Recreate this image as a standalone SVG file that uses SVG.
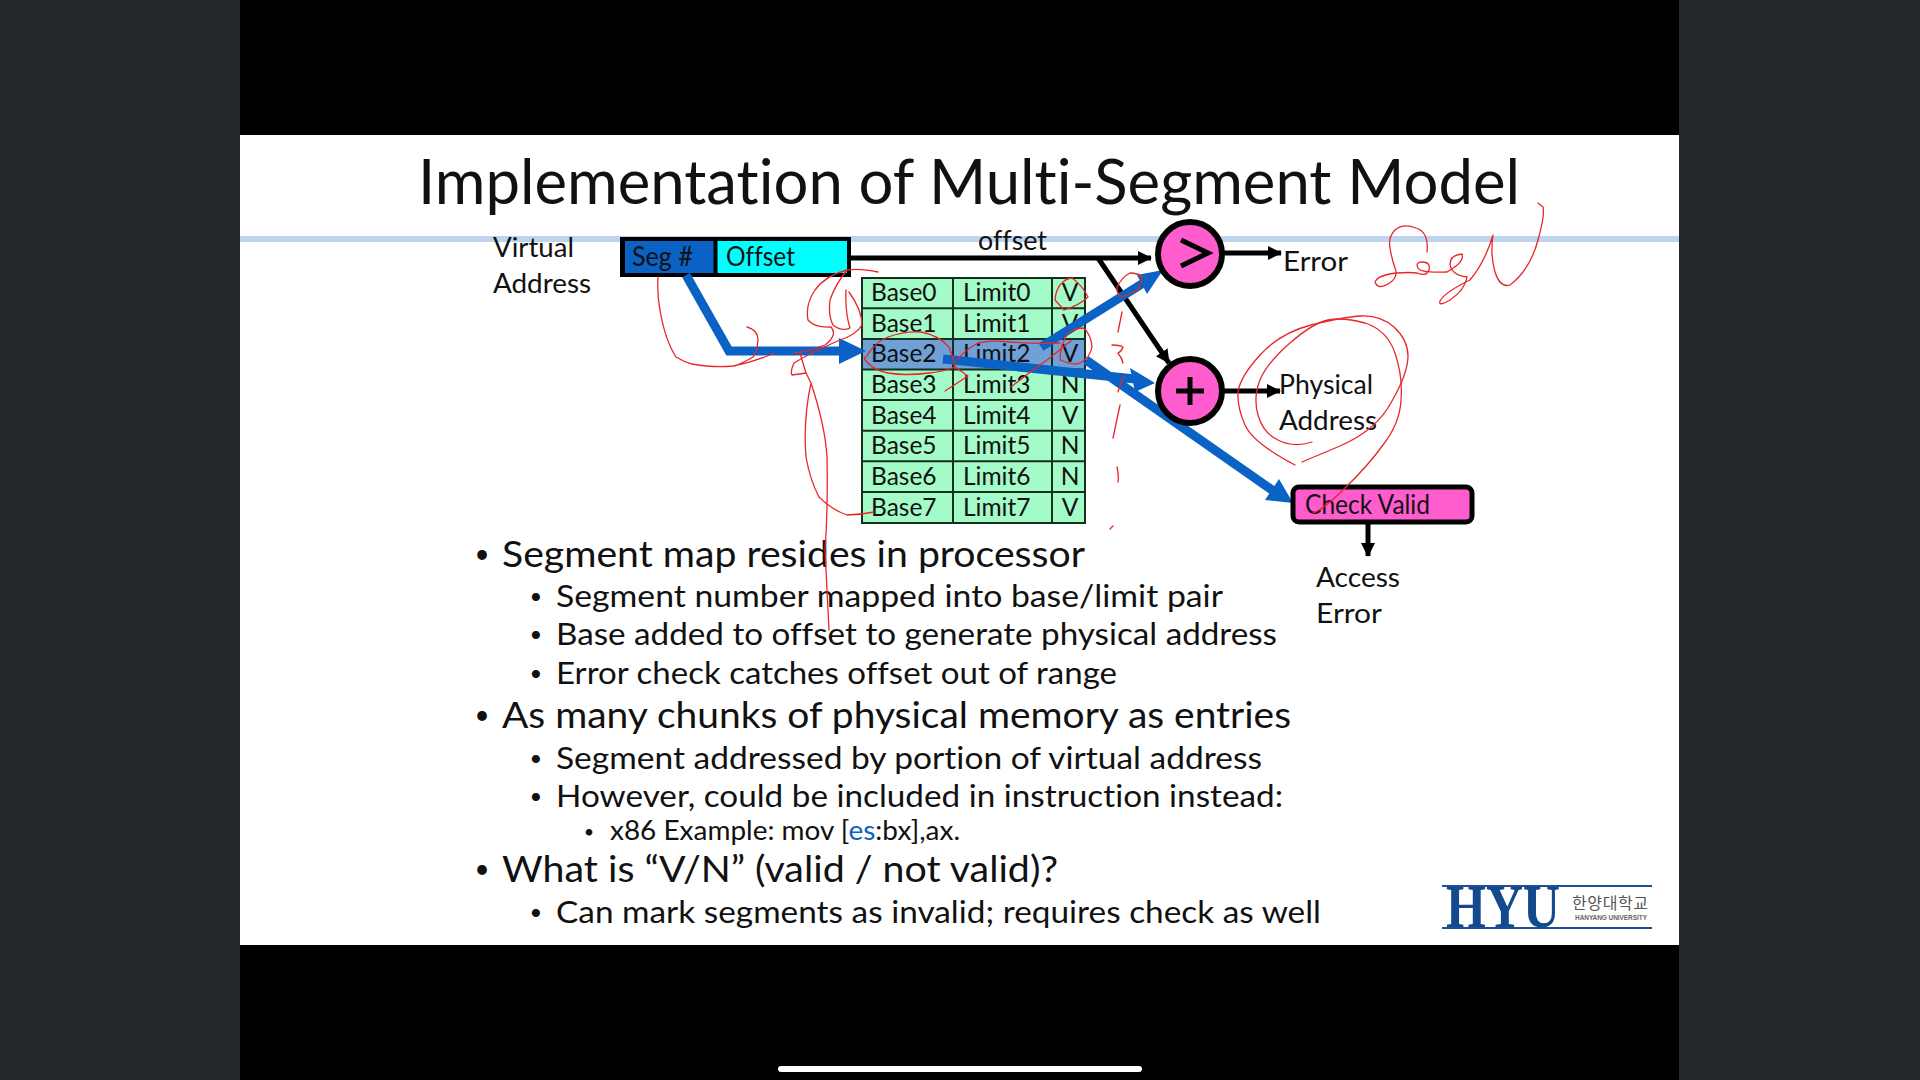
<svg xmlns="http://www.w3.org/2000/svg" width="1920" height="1080" viewBox="0 0 1920 1080">
<style>
text{font-family:"Lato","Noto Sans",sans-serif;fill:#111;font-variant-ligatures:none}
.d{font-size:27px}
.l1{font-size:37px}
.l2{font-size:31px}
.l3{font-size:26px}
.bu{text-anchor:middle}
.cell{font-size:24.5px}
.k{stroke:#000;stroke-width:5;fill:none}
.b{stroke:#0a62c4;stroke-width:9;fill:none;stroke-linejoin:miter}
.bh{fill:#0a62c4}
.r{stroke:#e8262a;stroke-width:1.3;fill:none;stroke-linecap:round;stroke-linejoin:round}
</style>
<defs>
<marker id="ka" markerUnits="userSpaceOnUse" markerWidth="16" markerHeight="16" refX="13" refY="7" orient="auto"><path d="M0 0L14 7L0 14z" fill="#000"/></marker>
</defs>
<rect width="1920" height="1080" fill="#000"/>
<rect width="240" height="1080" fill="#23282b"/>
<rect x="1679" width="241" height="1080" fill="#23282b"/>
<rect x="240" y="135" width="1439" height="810" fill="#fff"/>
<rect x="240" y="236" width="1439" height="6" fill="#bdd3ee"/>
<rect x="778" y="1066" width="364" height="6" rx="3" fill="#fff"/>
<text x="418" y="204" font-size="62" textLength="1102" lengthAdjust="spacingAndGlyphs">Implementation of Multi-Segment Model</text>

<text class="d" x="493" y="257" textLength="81" lengthAdjust="spacingAndGlyphs">Virtual</text>
<text class="d" x="493" y="293" textLength="98" lengthAdjust="spacingAndGlyphs">Address</text>

<g id="segment-register">
<rect x="620" y="237" width="231" height="40" fill="#000"/>
<rect x="625" y="241" width="88.500" height="32" fill="#0a62c4"/>
<rect x="717.500" y="241" width="129.500" height="32" fill="#00ffff"/>
<text x="632" y="266" font-size="26" textLength="61" lengthAdjust="spacingAndGlyphs">Seg #</text>
<text x="726" y="266" font-size="26" textLength="69" lengthAdjust="spacingAndGlyphs">Offset</text>
</g>

<g id="segment-table">
<rect x="862" y="278" width="223" height="245" fill="#a3fbc8"/>
<rect x="862" y="339" width="223" height="30.500" fill="#6fa0d6"/>
<path d="M862 308.300H1085M862 338.900H1085M862 369.500H1085M862 400.100H1085M862 430.700H1085M862 461.300H1085M862 491.900H1085M953 278V523M1052 278V523" stroke="#16301f" stroke-width="2" fill="none"/>
<rect x="862" y="278" width="223" height="245" fill="none" stroke="#16301f" stroke-width="2"/>
<text class="cell" x="871" y="301">Base0</text><text class="cell" x="963" y="301">Limit0</text><text class="cell bu" x="1070" y="301">V</text>
<text class="cell" x="871" y="331.600">Base1</text><text class="cell" x="963" y="331.600">Limit1</text><text class="cell bu" x="1070" y="331.600">V</text>
<text class="cell" x="871" y="362.300">Base2</text><text class="cell" x="963" y="362.300">Limit2</text><text class="cell bu" x="1070" y="362.300">V</text>
<text class="cell" x="871" y="393">Base3</text><text class="cell" x="963" y="393">Limit3</text><text class="cell bu" x="1070" y="393">N</text>
<text class="cell" x="871" y="423.600">Base4</text><text class="cell" x="963" y="423.600">Limit4</text><text class="cell bu" x="1070" y="423.600">V</text>
<text class="cell" x="871" y="454.300">Base5</text><text class="cell" x="963" y="454.300">Limit5</text><text class="cell bu" x="1070" y="454.300">N</text>
<text class="cell" x="871" y="485">Base6</text><text class="cell" x="963" y="485">Limit6</text><text class="cell bu" x="1070" y="485">N</text>
<text class="cell" x="871" y="515.700">Base7</text><text class="cell" x="963" y="515.700">Limit7</text><text class="cell bu" x="1070" y="515.700">V</text>
</g>

<g id="connectors">
<path class="k" d="M850 258H1151" marker-end="url(#ka)"/>
<path class="k" d="M1098 258L1169 363" marker-end="url(#ka)"/>
<path class="k" d="M1224 253H1281" marker-end="url(#ka)"/>
<path class="k" d="M1224 391H1280" marker-end="url(#ka)"/>
<path class="k" d="M1368 524V556" marker-end="url(#ka)"/>
<path class="b" d="M686 275L729 351H845"/>
<path class="bh" d="M839 338L866 351L839 364z"/>
<path class="b" d="M1041 347L1145 282"/>
<path class="bh" d="M1163 270L1137 275L1147 294z"/>
<path class="b" d="M943 359L1135 379"/>
<path class="bh" d="M1155 383L1130 368L1135 392z"/>
<path class="b" d="M1086 360L1275 492"/>
<path class="bh" d="M1293 503L1279 479L1265 500z"/>
</g>

<g id="comparator">
<circle cx="1190" cy="254" r="32" fill="#ff5ccd" stroke="#000" stroke-width="6"/>
<path d="M1181 240L1208 253L1181 266" fill="none" stroke="#000" stroke-width="5"/>
</g>
<g id="adder">
<circle cx="1190" cy="391" r="32" fill="#ff5ccd" stroke="#000" stroke-width="6"/>
<path d="M1176 391H1204M1190 377V405" stroke="#000" stroke-width="5" fill="none"/>
</g>
<g id="check-valid">
<rect x="1293" y="487" width="179" height="35" rx="6" fill="#ff5ccd" stroke="#000" stroke-width="5"/>
<text x="1305" y="514" font-size="26" textLength="125" lengthAdjust="spacingAndGlyphs">Check Valid</text>
</g>

<text class="d" x="978" y="250" textLength="69" lengthAdjust="spacingAndGlyphs">offset</text>
<text class="d" x="1283" y="271" textLength="65" lengthAdjust="spacingAndGlyphs">Error</text>
<text class="d" x="1279" y="394" textLength="94" lengthAdjust="spacingAndGlyphs">Physical</text>
<text class="d" x="1279" y="430" textLength="98" lengthAdjust="spacingAndGlyphs">Address</text>
<text class="d" x="1316" y="587" textLength="84" lengthAdjust="spacingAndGlyphs">Access</text>
<text class="d" x="1316" y="623" textLength="66" lengthAdjust="spacingAndGlyphs">Error</text>

<g id="bullets">
<text class="bu" font-size="26" x="482" y="563">•</text><text class="l1" x="502" y="567" textLength="583" lengthAdjust="spacingAndGlyphs">Segment map resides in processor</text>
<text class="bu" font-size="22" x="536" y="604">•</text><text class="l2" x="556" y="607" textLength="667" lengthAdjust="spacingAndGlyphs">Segment number mapped into base/limit pair</text>
<text class="bu" font-size="22" x="536" y="642">•</text><text class="l2" x="556" y="645" textLength="721" lengthAdjust="spacingAndGlyphs">Base added to offset to generate physical address</text>
<text class="bu" font-size="22" x="536" y="681">•</text><text class="l2" x="556" y="684" textLength="561" lengthAdjust="spacingAndGlyphs">Error check catches offset out of range</text>
<text class="bu" font-size="26" x="482" y="724">•</text><text class="l1" x="502" y="728" textLength="789" lengthAdjust="spacingAndGlyphs">As many chunks of physical memory as entries</text>
<text class="bu" font-size="22" x="536" y="766">•</text><text class="l2" x="556" y="769" textLength="706" lengthAdjust="spacingAndGlyphs">Segment addressed by portion of virtual address</text>
<text class="bu" font-size="22" x="536" y="804">•</text><text class="l2" x="556" y="807" textLength="727" lengthAdjust="spacingAndGlyphs">However, could be included in instruction instead:</text>
<text class="bu" font-size="18" x="589" y="838">•</text><text class="l3" x="610" y="840" textLength="350" lengthAdjust="spacingAndGlyphs">x86 Example: mov [<tspan style="fill:#0a62c4">es</tspan>:bx],ax.</text>
<text class="bu" font-size="26" x="482" y="878">•</text><text class="l1" x="502" y="882" textLength="556" lengthAdjust="spacingAndGlyphs">What is “V/N” (valid / not valid)?</text>
<text class="bu" font-size="22" x="536" y="920">•</text><text class="l2" x="556" y="923" textLength="765" lengthAdjust="spacingAndGlyphs">Can mark segments as invalid; requires check as well</text>
</g>

<g id="logo">
<path d="M1442 886H1652M1442 928H1652" stroke="#1f4f97" stroke-width="2"/>
<text x="1446" y="927" font-size="62" textLength="114" lengthAdjust="spacingAndGlyphs" style="font-family:'Liberation Serif',serif;font-weight:bold;fill:#134a8e">HYU</text>
<text x="1572" y="909" font-size="16" textLength="76" style="font-family:'Noto Sans CJK KR',sans-serif;fill:#555">한양대학교</text>
<text x="1575" y="920" font-size="6.500" textLength="72" style="font-family:'Liberation Sans',sans-serif;font-weight:bold;fill:#666">HANYANG UNIVERSITY</text>
</g>

<g id="ink">
<path class="r" d="M658 277Q657 295 660 310Q665 340 676 357Q684 362 692 364Q715 368 733 366Q755 362 774 353M747 327Q758 330 758 340Q757 352 753 357Q745 362 735 366"/>
<path class="r" d="M878 272Q860 268 847 270Q826 275 815 290Q805 305 808 320Q815 328 831 327Q838 335 825 345Q805 352 794 353M847 270Q835 285 830 300Q828 315 833 325Q842 332 850 328Q845 312 846 290M849 292Q862 310 862 325Q856 335 840 340Q812 352 794 363Q790 372 792 375Q800 374 806 373L811 383Q803 420 806 457Q810 480 819 497Q832 510 847 515Q860 515 874 512M811 383Q825 425 827 457Q828 510 825 550L829 630M806 373L800 353"/>
<path class="r" d="M868 363Q862 358 866 357Q875 342 888 337Q905 331 921 332Q938 335 949 347Q953 357 955 367Q942 372 929 373Q905 376 888 373Q874 370 868 363M955 367L968 376L945 391M957 360Q965 350 978 343Q992 340 1010 342Q1035 344 1060 343M1011 387Q1030 372 1051 357Q1062 348 1072 340"/>
<path class="r" d="M1060 360Q1075 366 1080 363Q1090 358 1092 347Q1091 335 1084 328Q1075 328 1068 333Q1060 345 1060 360"/>
<path class="r" d="M1055 300Q1056 290 1060 285Q1066 278 1072 278Q1082 285 1088 297Q1080 305 1064 310M1064 310L1055 300"/>
<path class="r" d="M1117 287Q1122 277 1130 273Q1138 273 1142 277Q1142 285 1137 290Q1128 295 1122 297Q1116 294 1117 287"/>
<path class="r" d="M1122 312L1118 332M1112 345Q1120 345 1123 347Q1122 351 1118 353Q1122 358 1123 363M1123 377L1118 392M1120 405L1113 438M1117 467Q1119 475 1118 482M1110 529L1113 526"/>
<path class="r" d="M1427 252Q1429 232 1416 228Q1403 223 1395 230Q1388 237 1390 248Q1392 260 1395 268Q1399 278 1388 284Q1378 290 1375 282Q1378 275 1397 273Q1410 272 1417 273Q1427 277 1429 270Q1431 262 1422 262Q1415 262 1418 268Q1420 273 1447 272Q1465 262 1462 254Q1450 255 1450 264Q1451 275 1467 277Q1465 290 1450 300Q1438 307 1440 301Q1445 292 1470 280Q1485 262 1493 235Q1490 255 1495 272Q1500 288 1510 285Q1530 270 1538 240Q1545 215 1543 207L1538 203"/>
<path class="r" d="M1295 465Q1253 443 1245 425Q1237 407 1238 392Q1240 377 1260 355Q1280 333 1311 325Q1343 317 1361 316Q1380 315 1394 327Q1408 340 1408 356Q1408 373 1392 401Q1377 430 1340 446L1302 462"/>
<path class="r" d="M1312 442Q1293 448 1278 440Q1263 433 1258 415Q1253 397 1260 380Q1267 363 1290 343Q1313 323 1328 320Q1343 317 1365 323Q1387 330 1395 353Q1403 377 1401 400Q1400 423 1383 445Q1367 467 1345 488Q1323 510 1313 513"/>
</g>
</svg>
